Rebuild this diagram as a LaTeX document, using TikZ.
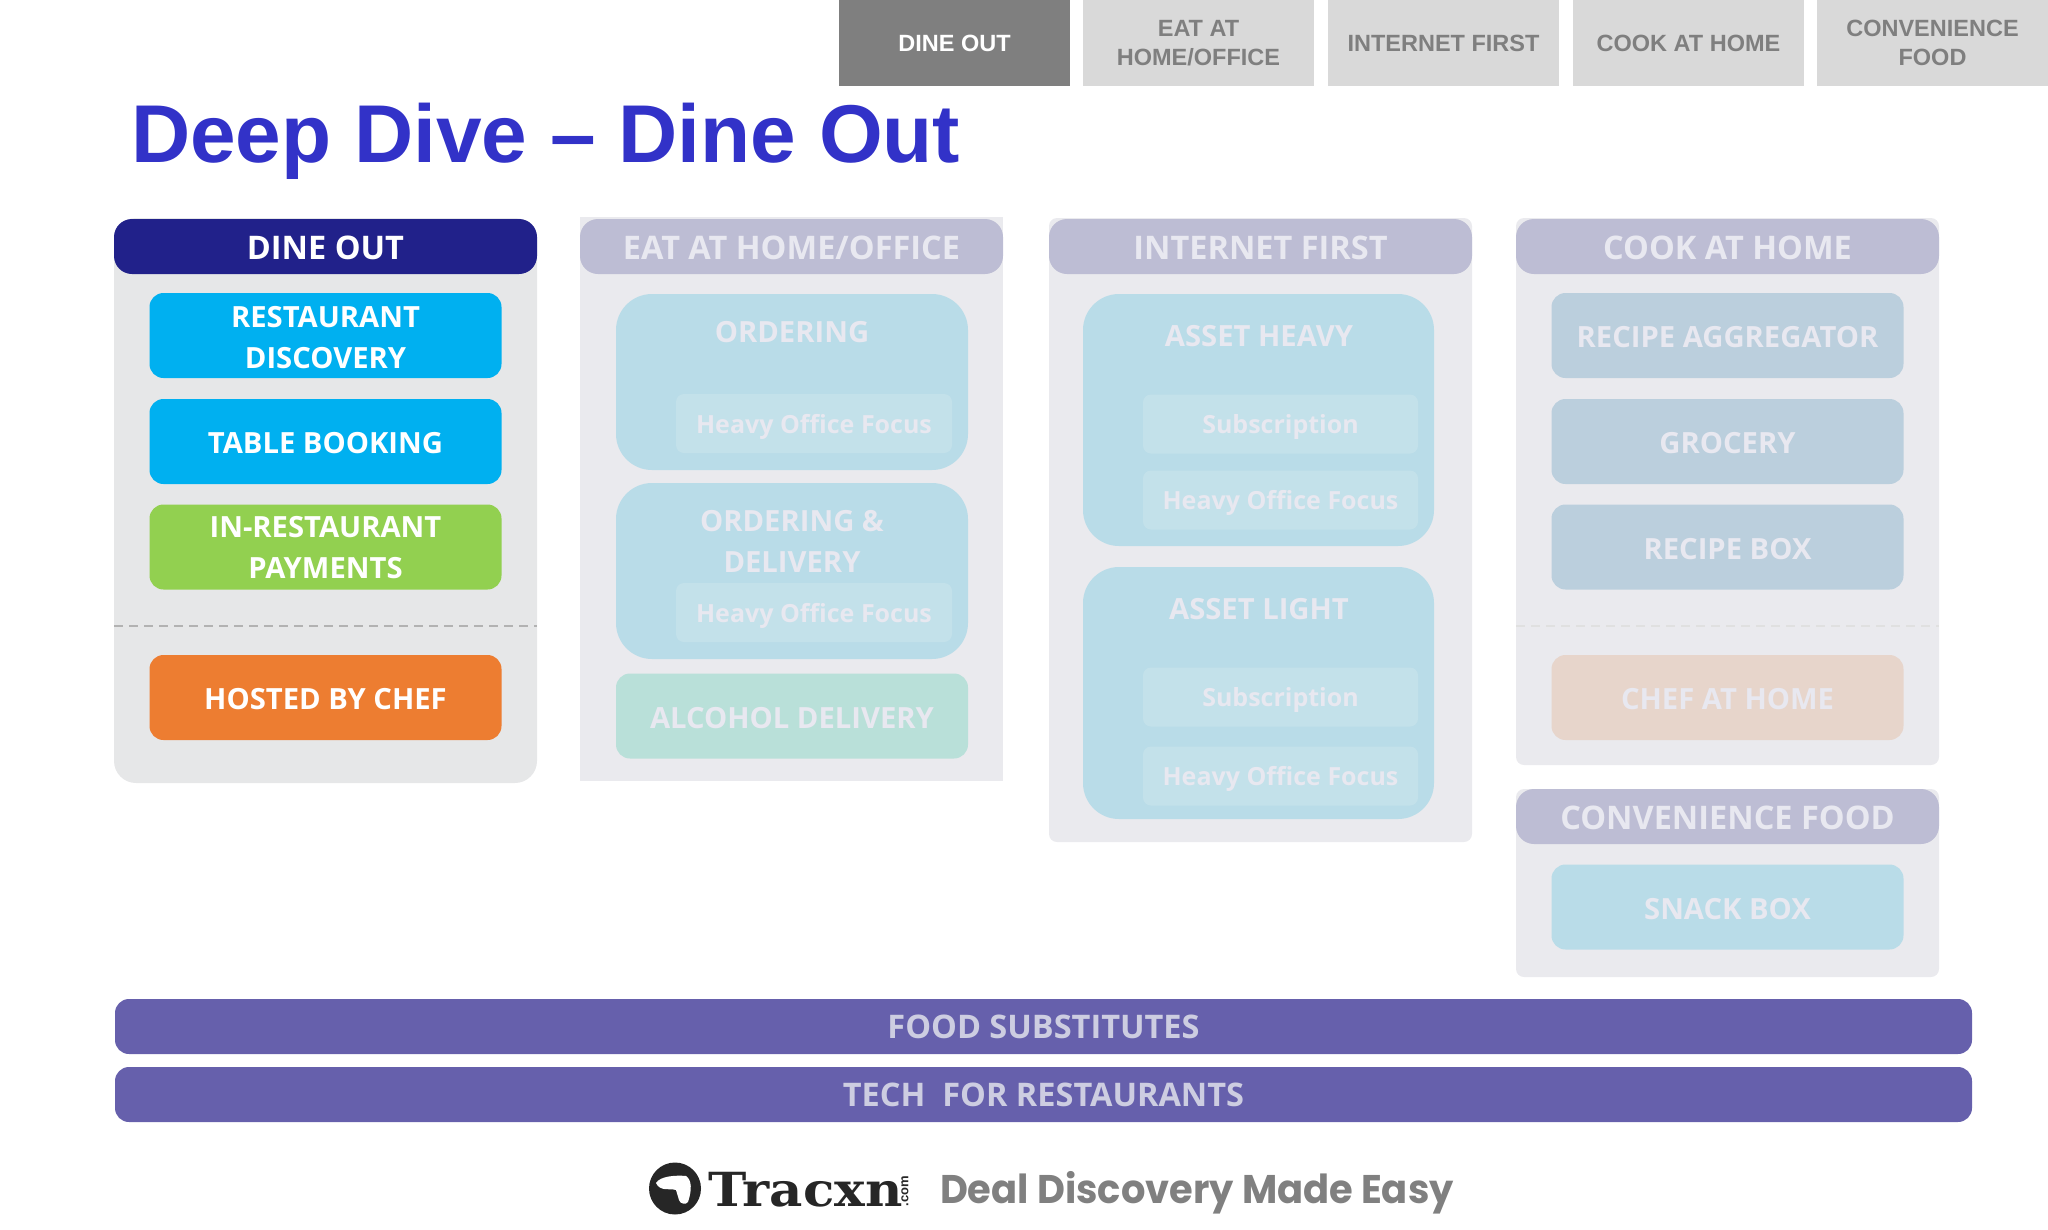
\documentclass[tikz,border=0pt]{standalone}
\usepackage{fontspec}
\usepackage{tikz}
\usetikzlibrary{positioning,fit,calc}
\setmainfont{Open Sans}
\newfontfamily\arialfont{Liberation Sans}
\newfontfamily\slabfont{DejaVu Serif}
\newfontfamily\tagfont{Poppins}
\definecolor{mytitle}{RGB}{50,50,200}
\definecolor{mynavy}{RGB}{33,33,138}
\definecolor{myfadehead}{RGB}{189,189,212}
\definecolor{myfadetext}{RGB}{232,232,240}
\definecolor{mybody}{RGB}{230,231,232}
\definecolor{myfadebody}{RGB}{234,234,238}
\definecolor{myblue}{RGB}{0,176,240}
\definecolor{mygreen}{RGB}{146,208,80}
\definecolor{myorange}{RGB}{237,125,49}
\definecolor{myfadeblue}{RGB}{185,220,232}
\definecolor{myinner}{RGB}{195,225,234}
\definecolor{myslate}{RGB}{187,207,221}
\definecolor{mymint}{RGB}{185,224,217}
\definecolor{mypeach}{RGB}{231,213,203}
\definecolor{mybar}{RGB}{102,96,172}
\definecolor{mybartext}{RGB}{205,205,225}
\definecolor{mytabtext}{RGB}{127,127,127}
\begin{document}
\begin{tikzpicture}[x=1pt,y=-1pt,
    every node/.style={inner sep=0pt,outer sep=0pt,align=center},
    tabnode/.style={font=\arialfont\bfseries\fontsize{23.5}{29}\selectfont,minimum width=231pt,minimum height=86pt},
    bodynode/.style={minimum width=423pt},
    headnode/.style={font=\bfseries\fontsize{32.5}{41}\selectfont,execute at begin node={\rule{0pt}{26pt}},minimum width=423pt,minimum height=55pt,rounded corners=18pt},
    itemnode/.style={font=\bfseries\fontsize{29.2}{41}\selectfont,execute at begin node={\rule{0pt}{25pt}},text=white,minimum width=352pt,minimum height=85pt,rounded corners=14pt},
    bignode/.style={fill=myfadeblue,minimum width=352pt,rounded corners=36pt},
    innernode/.style={fill=myinner,text=myfadetext,font=\bfseries\fontsize{25}{33}\selectfont,text depth=0pt,minimum height=59pt,rounded corners=8pt},
    labelnode/.style={text=myfadetext,font=\bfseries\fontsize{29.2}{41}\selectfont},
    barnode/.style={fill=mybar,text=mybartext,font=\bfseries\fontsize{32.5}{41}\selectfont,execute at begin node={\rule{0pt}{25pt}},minimum width=1857pt,minimum height=55pt,rounded corners=14pt},
    sepline/.style={line width=2.5pt,dash pattern=on 9pt off 6pt,color=black!30}
  ]
  \useasboundingbox (0,0) rectangle (2048,1229);

  % the tabs
  \node[tabnode,fill=mytabtext,text=white] (tabdine) at (954.5,43) {DINE OUT};
  \foreach \name/\x/\txt in {tabeat/1198.5/{EAT AT\\HOME/OFFICE},tabnet/1443.5/{INTERNET FIRST},tabcook/1688.5/{COOK AT HOME},tabconv/1932.5/{CONVENIENCE\\FOOD}}
    \node[tabnode,fill=black!15,text=mytabtext] (\name) at (\x,43) {\txt};

  % the title
  \node[anchor=base west,text=mytitle,font=\arialfont\bfseries\fontsize{82}{90}\selectfont] (title) at (131,162) {Deep Dive – Dine Out};

  % the column bodies
  \node[bodynode,fill=mybody,minimum height=565pt,rounded corners=22pt] (bodydine) at (325.5,500.5) {};
  \node[bodynode,fill=myfadebody,minimum height=564pt] (bodyeat) at (791.5,499) {};
  \node[bodynode,fill=myfadebody,minimum height=624pt,rounded corners=8pt] (bodynet) at (1260.5,530) {};
  \node[bodynode,fill=myfadebody,minimum height=547pt,rounded corners=8pt] (bodycook) at (1727.5,491.5) {};
  \node[bodynode,fill=myfadebody,minimum height=188pt,rounded corners=8pt] (bodyconv) at (1727.5,883) {};

  % the column heads
  \node[headnode,fill=mynavy,text=white] (headdine) at (325.5,246.5) {DINE OUT};
  \foreach \name/\x/\y/\txt in {headeat/791.5/246.5/{EAT AT HOME/OFFICE},headnet/1260.5/246.5/{INTERNET FIRST},headcook/1727.5/246.5/{COOK AT HOME},headconv/1727.5/816.5/{CONVENIENCE FOOD}}
    \node[headnode,fill=myfadehead,text=myfadetext] (\name) at (\x,\y) {\txt};

  % the boxes of dine out
  \node[itemnode,fill=myblue] (discovery) at (325.5,335.5) {};
  \node[labelnode,text=white] (discoverytxt) at (325.5,337.5) {RESTAURANT\\DISCOVERY};
  \node[itemnode,fill=myblue] (booking) at (325.5,441.5) {TABLE BOOKING};
  \node[itemnode,fill=mygreen] (payments) at (325.5,547) {};
  \node[labelnode,text=white] (paymentstxt) at (325.5,548) {IN-RESTAURANT\\PAYMENTS};
  \node[itemnode,fill=myorange] (hosted) at (325.5,697.5) {HOSTED BY CHEF};

  % the boxes of eat at home
  \node[bignode,minimum height=176pt] (ordering) at (792,382) {};
  \node[bignode,minimum height=176pt] (orderdel) at (792,571) {};
  \node[labelnode] (orderingtxt) at (792,332) {ORDERING};
  \node[labelnode] (orderdeltxt) at (792,541) {ORDERING \&\\DELIVERY};
  \foreach \name/\y in {eatheavya/423.5,eatheavyb/612.5}
    \node[innernode,minimum width=276pt] (\name) at (814,\y) {Heavy Office Focus};
  \node[itemnode,fill=mymint,text=myfadetext] (alcohol) at (792,716) {ALCOHOL DELIVERY};

  % the boxes of internet first
  \node[bignode,minimum height=252pt,minimum width=351pt] (assetheavy) at (1258.5,420) {};
  \node[bignode,minimum height=252pt,minimum width=351pt] (assetlight) at (1258.5,693) {};
  \node[labelnode] (assetheavytxt) at (1259,336) {ASSET HEAVY};
  \node[labelnode] (assetlighttxt) at (1259,609) {ASSET LIGHT};
  \foreach \name/\y/\txt in {netsuba/424/Subscription,netheavya/500/Heavy Office Focus,netsubb/697/Subscription,netheavyb/776/Heavy Office Focus}
    \node[innernode,minimum width=275pt] (\name) at (1280.5,\y) {\txt};

  % the boxes of cook at home
  \foreach \name/\y/\txt in {aggregator/335.5/RECIPE AGGREGATOR,grocery/441.5/GROCERY,recipebox/547/RECIPE BOX}
    \node[itemnode,fill=myslate,text=myfadetext] (\name) at (1727.5,\y) {\txt};
  \node[itemnode,fill=mypeach,text=myfadetext] (chef) at (1727.5,697.5) {CHEF AT HOME};
  \node[itemnode,fill=myfadeblue,text=myfadetext] (snack) at (1727.5,907) {SNACK BOX};

  % the dashed lines
  \coordinate (dinesepl) at (114,626);
  \coordinate (dinesepr) at (537,626);
  \coordinate (cooksepl) at (1516,626);
  \coordinate (cooksepr) at (1939,626);
  \draw[sepline] (dinesepl) -- (dinesepr);
  \draw[sepline,color=black!12] (cooksepl) -- (cooksepr);

  % the bars
  \node[barnode] (barfood) at (1043.5,1026.5) {FOOD SUBSTITUTES};
  \node[barnode] (bartech) at (1043.5,1094.5) {TECH\ \ FOR RESTAURANTS};

  % the footer
  \node[circle,fill=black!85,minimum size=52pt] (logo) at (675,1188.5) {};
  \fill[white] (656,1183) .. controls (660,1176) and (676,1175) .. (686,1176) .. controls (692,1180) and (692,1190) .. (688,1202) .. controls (686,1205) and (680,1204) .. (679,1200) -- (676,1190) .. controls (670,1188) and (660,1192) .. (656,1183);
  \node[anchor=base west,text=black!85,font=\slabfont\bfseries\fontsize{47}{50}\selectfont,xscale=1.095] (tracxn) at (708,1206) {Tracxn};
  \node[rotate=90,text=black!85,font=\arialfont\bfseries\fontsize{13}{14}\selectfont] (dotcom) at (905,1191) {.com};
  \node[anchor=base west,text=black!50,font=\tagfont\bfseries\fontsize{40}{44}\selectfont,xscale=0.96] (tagline) at (940,1203) {Deal Discovery Made Easy};
\end{tikzpicture}
\end{document}
